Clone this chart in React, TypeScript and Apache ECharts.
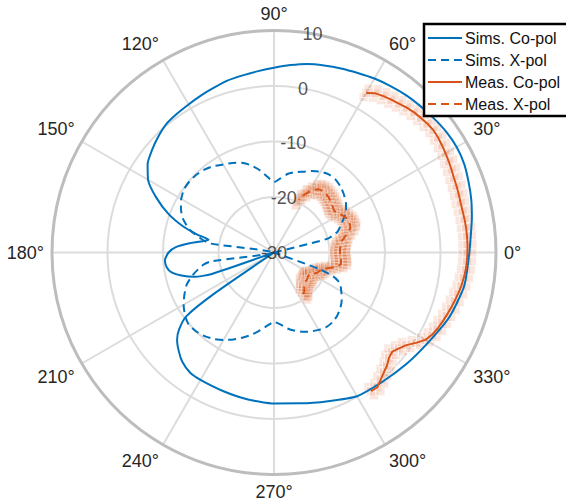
import React, { useEffect, useRef } from "react";
import * as echarts from "echarts";

// ---- axes ----
const radiusTicks = [-30, -20, -10, 0, 10];
const radialLabelAngle = 80;
const legendNames = ["Sims. Co-pol", "Sims. X-pol", "Meas. Co-pol", "Meas. X-pol"];

// ---- simulated co-polar pattern (deg, dB) ----
const simCoAngles = [0, 5, 10, 15, 20, 25, 30, 35, 40, 45, 50, 55, 60, 65, 70, 75, 80, 85, 90, 95, 100, 105, 110, 115, 120, 125, 130, 135, 140, 145, 150, 155, 160, 164, 167, 169, 171, 174, 177, 180, 184, 188, 191, 194, 197, 199, 201, 213, 214.5, 216, 219, 222, 226, 230, 235, 240, 250, 260, 270, 280, 290, 300, 310, 320, 330, 340, 350, 360];
const simCoValues = [5.2, 5.6, 6.2, 6.8, 7.3, 7.8, 8.0, 7.9, 7.6, 7.3, 7.0, 6.6, 6.2, 5.7, 5.3, 4.9, 4.5, 3.9, 3.3, 2.8, 2.4, 2.1, 1.6, 1.2, 0.8, 0.5, 0.2, -0.5, -1.3, -2.2, -3.8, -6.6, -9.8, -13.0, -16.0, -18.0, -17.0, -14.5, -12.2, -11.0, -10.3, -10.5, -11.2, -12.8, -15.0, -18.0, -30, -30, -17.0, -10.5, -8.0, -6.5, -5.3, -4.3, -3.6, -3.5, -3.4, -3.1, -2.8, -2.4, -1.5, -0.1, 0.4, 1.2, 2.2, 3.7, 4.8, 5.2];

// ---- simulated cross-polar pattern ----
const simXAngles = [0, 6, 12, 14.5, 18, 20, 25, 30, 35, 40, 45, 50, 55, 60, 65, 70, 75, 80, 85, 90, 95, 100, 105, 110, 115, 120, 125, 130, 135, 140, 145, 150, 155, 160, 165, 170, 172, 175, 185, 188, 190, 195, 200, 205, 210, 215, 220, 225, 230, 235, 240, 245, 250, 255, 260, 265, 270, 275, 280, 285, 290, 295, 300, 305, 310, 315, 320, 325, 330, 335, 338, 340, 342, 350, 360];
const simXValues = [-30, -30, -30, -20.0, -18.0, -17.5, -16.3, -15.0, -14.2, -13.6, -13.1, -12.8, -12.8, -13.2, -13.8, -14.5, -15.0, -15.6, -16.6, -17.3, -16.3, -14.9, -13.7, -12.8, -12.2, -11.7, -11.0, -10.5, -10.2, -10.1, -10.2, -10.7, -11.5, -12.6, -14.3, -17.0, -18.5, -30, -30, -18.5, -17.0, -15.0, -13.3, -12.2, -11.2, -10.4, -9.9, -10.0, -10.4, -11.0, -11.8, -12.7, -13.7, -14.7, -15.8, -16.8, -17.5, -17.0, -16.1, -15.4, -14.8, -14.3, -13.9, -13.6, -13.6, -13.9, -14.4, -15.1, -16.0, -16.9, -18.5, -21.5, -30, -30, -30];

// ---- measured co-polar ----
const measCoAngles = [-55, -52.5, -50, -47.5, -45, -42.5, -40, -37.5, -35, -32.5, -30, -27.5, -25, -22.5, -20, -17.5, -15, -12.5, -10, -7.5, -5, -2.5, 0, 2.5, 5, 7.5, 10, 12.5, 15, 17.5, 20, 22.5, 25, 27.5, 30, 32.5, 35, 37.5, 40, 42.5, 45, 47.5, 50, 52.5, 55, 57.5, 60];
const measCoValues = [0.5, 0.6, -0.1, -0.7, -1.2, -1.9, -2.2, -1.6, -0.9, 0.3, 1.5, 2.1, 2.5, 2.8, 3.1, 3.4, 3.7, 4.0, 4.3, 4.5, 4.7, 4.8, 4.85, 4.9, 4.9, 4.9, 4.85, 4.8, 4.8, 4.9, 5.0, 5.1, 5.3, 5.5, 5.7, 5.9, 6.1, 6.2, 6.1, 5.9, 5.7, 5.4, 5.0, 4.7, 4.4, 4.0, 3.2];

// ---- measured cross-polar ----
const measXAngles = [-55, -52.5, -50, -47.5, -45, -42.5, -40, -37.5, -35, -32.5, -30, -27.5, -25, -22.5, -20, -17.5, -15, -12.5, -10, -7.5, -5, -2.5, 0, 2.5, 5, 7.5, 10, 12.5, 15, 17.5, 20, 22.5, 25, 27.5, 30, 32.5, 35, 37.5, 40, 42.5, 45, 47.5, 50, 52.5, 55, 57.5, 60, 62.5, 65];
const measXValues = [-20.8, -21.1, -21.5, -21.9, -22.2, -22.3, -22.3, -22.4, -22.5, -22.5, -22.3, -21.8, -21.4, -21.2, -20.9, -20.3, -19.4, -18.3, -17.8, -17.8, -17.9, -18.0, -18.1, -18.1, -18.0, -17.8, -17.5, -16.9, -16.2, -15.6, -15.4, -15.4, -15.5, -15.8, -16.2, -16.6, -16.8, -16.6, -16.4, -16.2, -16.0, -15.9, -15.8, -15.9, -16.1, -16.6, -17.4, -18.3, -19.5];

// spread of the measurement scatter (dB offsets)
const measCoSpread = [-0.9, 0, 0.9];
const measXSpread = [-1.1, -0.4, 0.4, 1.1];

const BLUE = "#0072BD";
const ORANGE = "#D95319";
const FONT = "'Liberation Sans', Arial, Helvetica, sans-serif";

const norm = (a: number) => ((a % 360) + 360) % 360;

function band(angles: number[], values: number[], spread: number[]) {
  const out: number[][] = [];
  angles.forEach((a, i) => {
    spread.forEach((s) => out.push([values[i] + s, norm(a)]));
  });
  return out;
}

export default function App() {
  const ref = useRef<HTMLDivElement>(null);
  useEffect(() => {
    if (!ref.current) return;
    const chart = echarts.init(ref.current, null, { renderer: "svg" });
    const coBandStyle = {
      color: "rgba(217,83,25,0.17)",
      borderColor: "rgba(255,255,255,0.9)",
      borderWidth: 1,
    };
    const xBandStyle = {
      color: "rgba(217,83,25,0.22)",
      borderColor: "rgba(255,255,255,0.6)",
      borderWidth: 0.8,
    };
    const option: any = {
      animation: false,
      backgroundColor: "#ffffff",
      polar: { center: [274, 252.5], radius: 222 },
      angleAxis: {
        type: "value",
        min: 0,
        max: 360,
        interval: 30,
        startAngle: 0,
        clockwise: false,
        axisLine: { show: true, lineStyle: { color: "#bdbdbd", width: 3 } },
        axisTick: { show: false },
        axisLabel: {
          show: true,
          margin: 8,
          fontSize: 18,
          color: "#262626",
          fontFamily: FONT,
          formatter: (v: number) => (v >= 360 ? "" : v + "°"),
        },
        splitLine: { show: true, lineStyle: { color: "#dcdcdc", width: 2 } },
      },
      radiusAxis: {
        type: "value",
        min: -30,
        max: 10,
        interval: 10,
        axisLine: { show: false },
        axisTick: { show: false },
        axisLabel: { show: false },
        splitLine: { show: true, lineStyle: { color: "#dcdcdc", width: 2 } },
      },
      legend: {
        data: legendNames,
        orient: "vertical",
        left: 424,
        top: 24,
        padding: [6, 10, 4, 3],
        itemWidth: 34,
        itemHeight: 14,
        itemGap: 6,
        backgroundColor: "#ffffff",
        borderColor: "#000000",
        borderWidth: 2.5,
        borderRadius: 0,
        selectedMode: false,
        itemStyle: { opacity: 0 },
        textStyle: { fontSize: 16, color: "#111111", fontFamily: FONT, padding: [0, 0, 0, -2] },
      },
      series: [
        {
          name: "meas-co-band",
          type: "scatter",
          coordinateSystem: "polar",
          silent: true,
          symbol: "rect",
          symbolSize: 9,
          itemStyle: coBandStyle,
          data: band(measCoAngles, measCoValues, measCoSpread),
          z: 2,
        },
        {
          name: "meas-x-band",
          type: "scatter",
          coordinateSystem: "polar",
          silent: true,
          symbol: "rect",
          symbolSize: 9,
          itemStyle: xBandStyle,
          data: band(measXAngles, measXValues, measXSpread),
          z: 2,
        },
        {
          name: legendNames[0],
          type: "line",
          coordinateSystem: "polar",
          symbol: "none",
          smooth: 0.2,
          itemStyle: { color: BLUE },
          lineStyle: { color: BLUE, width: 2 },
          data: simCoAngles.map((a, i) => [simCoValues[i], a]),
          z: 3,
        },
        {
          name: legendNames[1],
          type: "line",
          coordinateSystem: "polar",
          symbol: "none",
          smooth: 0.2,
          itemStyle: { color: BLUE },
          lineStyle: { color: BLUE, width: 2, type: [8, 5] },
          data: simXAngles.map((a, i) => [simXValues[i], a]),
          z: 3,
        },
        {
          name: legendNames[2],
          type: "line",
          coordinateSystem: "polar",
          symbol: "none",
          itemStyle: { color: ORANGE },
          lineStyle: { color: ORANGE, width: 2 },
          data: measCoAngles.map((a, i) => [measCoValues[i], norm(a)]),
          z: 4,
        },
        {
          name: legendNames[3],
          type: "line",
          coordinateSystem: "polar",
          symbol: "none",
          itemStyle: { color: ORANGE },
          lineStyle: { color: ORANGE, width: 2, type: [8, 5] },
          data: measXAngles.map((a, i) => [measXValues[i], norm(a)]),
          z: 4,
        },
        {
          name: "r-labels",
          type: "scatter",
          coordinateSystem: "polar",
          silent: true,
          symbol: "circle",
          symbolSize: 1,
          itemStyle: { color: "rgba(0,0,0,0)" },
          label: {
            show: true,
            position: "inside",
            formatter: (p: any) => String(p.value[0]),
            fontSize: 18,
            color: "#262626",
            fontFamily: FONT,
          },
          data: radiusTicks.map((r) => [r, radialLabelAngle]),
          z: 10,
        },
      ],
    };
    chart.setOption(option);
    return () => chart.dispose();
  }, []);
  return (
    <div
      ref={ref}
      style={{ position: "fixed", left: 0, top: 0, width: 566, height: 504, background: "#fff" }}
    />
  );
}
